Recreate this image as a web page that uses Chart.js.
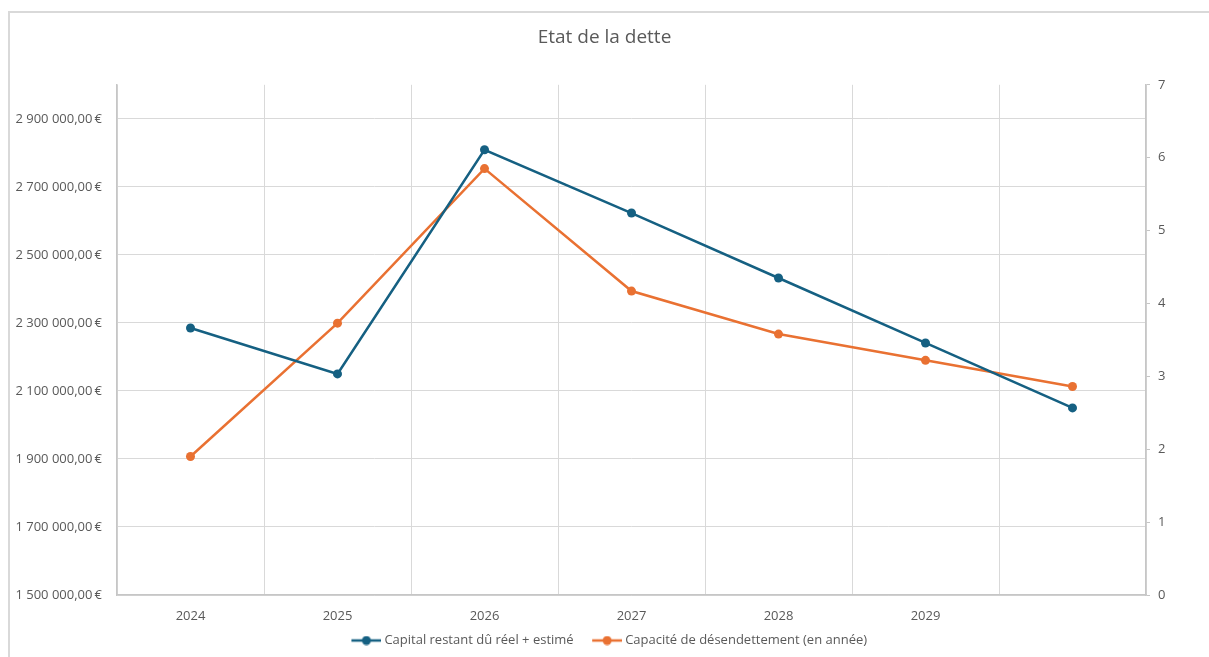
<!DOCTYPE html>
<html>
<head>
<meta charset="utf-8">
<title>Etat de la dette</title>
<script src="https://cdn.jsdelivr.net/npm/chart.js@4.4.1/dist/chart.umd.min.js"></script>
<style>
    body { margin: 0; background: #fff; }
    #frame { position: absolute; left: 8px; top: 11px; width: 1400px; height: 800px; border-top: 2px solid #d9d9d9; border-left: 2px solid #d9d9d9; }
    #chart1 { position: absolute; left: 0; top: 0; }
</style>
</head>
<body>
<div id="frame"></div>
<canvas id="chart1" width="1209" height="657"></canvas>
<script>
// data
var years = ['2024', '2025', '2026', '2027', '2028', '2029', ''];
var capital = [2285000, 2150000, 2809000, 2623000, 2432000, 2241000, 2050000];
var capacite = [1.90, 3.73, 5.85, 4.17, 3.58, 3.22, 2.86];
var euroTicks = [1500000, 1700000, 1900000, 2100000, 2300000, 2500000, 2700000, 2900000];

var blue = '#156082';
var orange = '#e97132';
var textColor = '#595959';

function euro(v) {
    var s = Math.round(v).toString().replace(/\B(?=(\d{3})+(?!\d))/g, ' ');
    return s + ',00\u2009€';
}

// legend marker: line with a dot
function marker(color) {
    var c = document.createElement('canvas');
    c.width = 43;
    c.height = 10;
    var g = c.getContext('2d');
    g.strokeStyle = color;
    g.lineWidth = 2.5;
    g.beginPath();
    g.moveTo(13, 5);
    g.lineTo(43, 5);
    g.stroke();
    g.fillStyle = color;
    g.beginPath();
    g.arc(28, 5, 4.5, 0, Math.PI * 2);
    g.fill();
    return c;
}
var markers = [marker(blue), marker(orange)];

Chart.defaults.font.family = '"Open Sans", sans-serif';
Chart.defaults.color = textColor;

// chart1
var ctx = document.getElementById('chart1').getContext('2d');
var myChart = new Chart(ctx, {
    type: 'line',
    data: {
        labels: years,
        datasets: [{
            label: 'Capital restant dû réel + estimé',
            data: capital,
            yAxisID: 'y',
            borderColor: blue,
            backgroundColor: blue,
            borderWidth: 2.5,
            pointRadius: 4.5,
            pointBorderWidth: 0,
            tension: 0
        },
        {
            label: 'Capacité de désendettement (en année)',
            data: capacite,
            yAxisID: 'y1',
            borderColor: orange,
            backgroundColor: orange,
            borderWidth: 2.5,
            pointRadius: 4.5,
            pointBorderWidth: 0,
            tension: 0
        }]
    },
    options: {
        responsive: false,
        animation: false,
        layout: {
            padding: { left: 0, right: 0, top: 0, bottom: 0 }
        },
        plugins: {
            title: {
                display: true,
                text: 'Etat de la dette',
                color: textColor,
                font: { size: 19, weight: 'normal' },
                padding: { top: 26, bottom: 36 }
            },
            legend: {
                position: 'bottom',
                display: true,
                labels: {
                    usePointStyle: true,
                    pointStyleWidth: 36,
                    padding: 9,
                    color: textColor,
                    font: { size: 13 },
                    generateLabels: function(chart) {
                        var items = Chart.defaults.plugins.legend.labels.generateLabels(chart);
                        items.forEach(function(it, i) { it.pointStyle = markers[i]; });
                        return items;
                    }
                }
            },
            tooltip: { enabled: false }
        },
        scales: {
            x: {
                offset: true,
                grid: {
                    offset: true,
                    color: '#d9d9d9',
                    lineWidth: 1,
                    drawTicks: false
                },
                border: { color: '#c6c6c6', width: 1.5 },
                ticks: { padding: 13, font: { size: 13 }, color: textColor },
                afterFit: function(scale) { scale.height = 30; }
            },
            y: {
                position: 'left',
                min: 1500000,
                max: 3000000,
                afterBuildTicks: function(axis) {
                    axis.ticks = euroTicks.map(function(v) { return { value: v }; });
                },
                grid: {
                    color: '#d9d9d9',
                    lineWidth: 1,
                    drawTicks: false
                },
                border: { color: '#c6c6c6', width: 1.5 },
                ticks: {
                    padding: 15,
                    font: { size: 13 },
                    color: textColor,
                    callback: function(v) { return euro(v); }
                },
                afterFit: function(scale) { scale.width = 117; }
            },
            y1: {
                position: 'right',
                min: 0,
                max: 7,
                ticks: { stepSize: 1, padding: 8, font: { size: 13 }, color: textColor },
                grid: {
                    drawOnChartArea: false,
                    color: '#c6c6c6',
                    tickLength: 4
                },
                border: { color: '#c6c6c6', width: 1.5 },
                afterFit: function(scale) { scale.width = 63; }
            }
        }
    }
});
</script>
</body>
</html>
